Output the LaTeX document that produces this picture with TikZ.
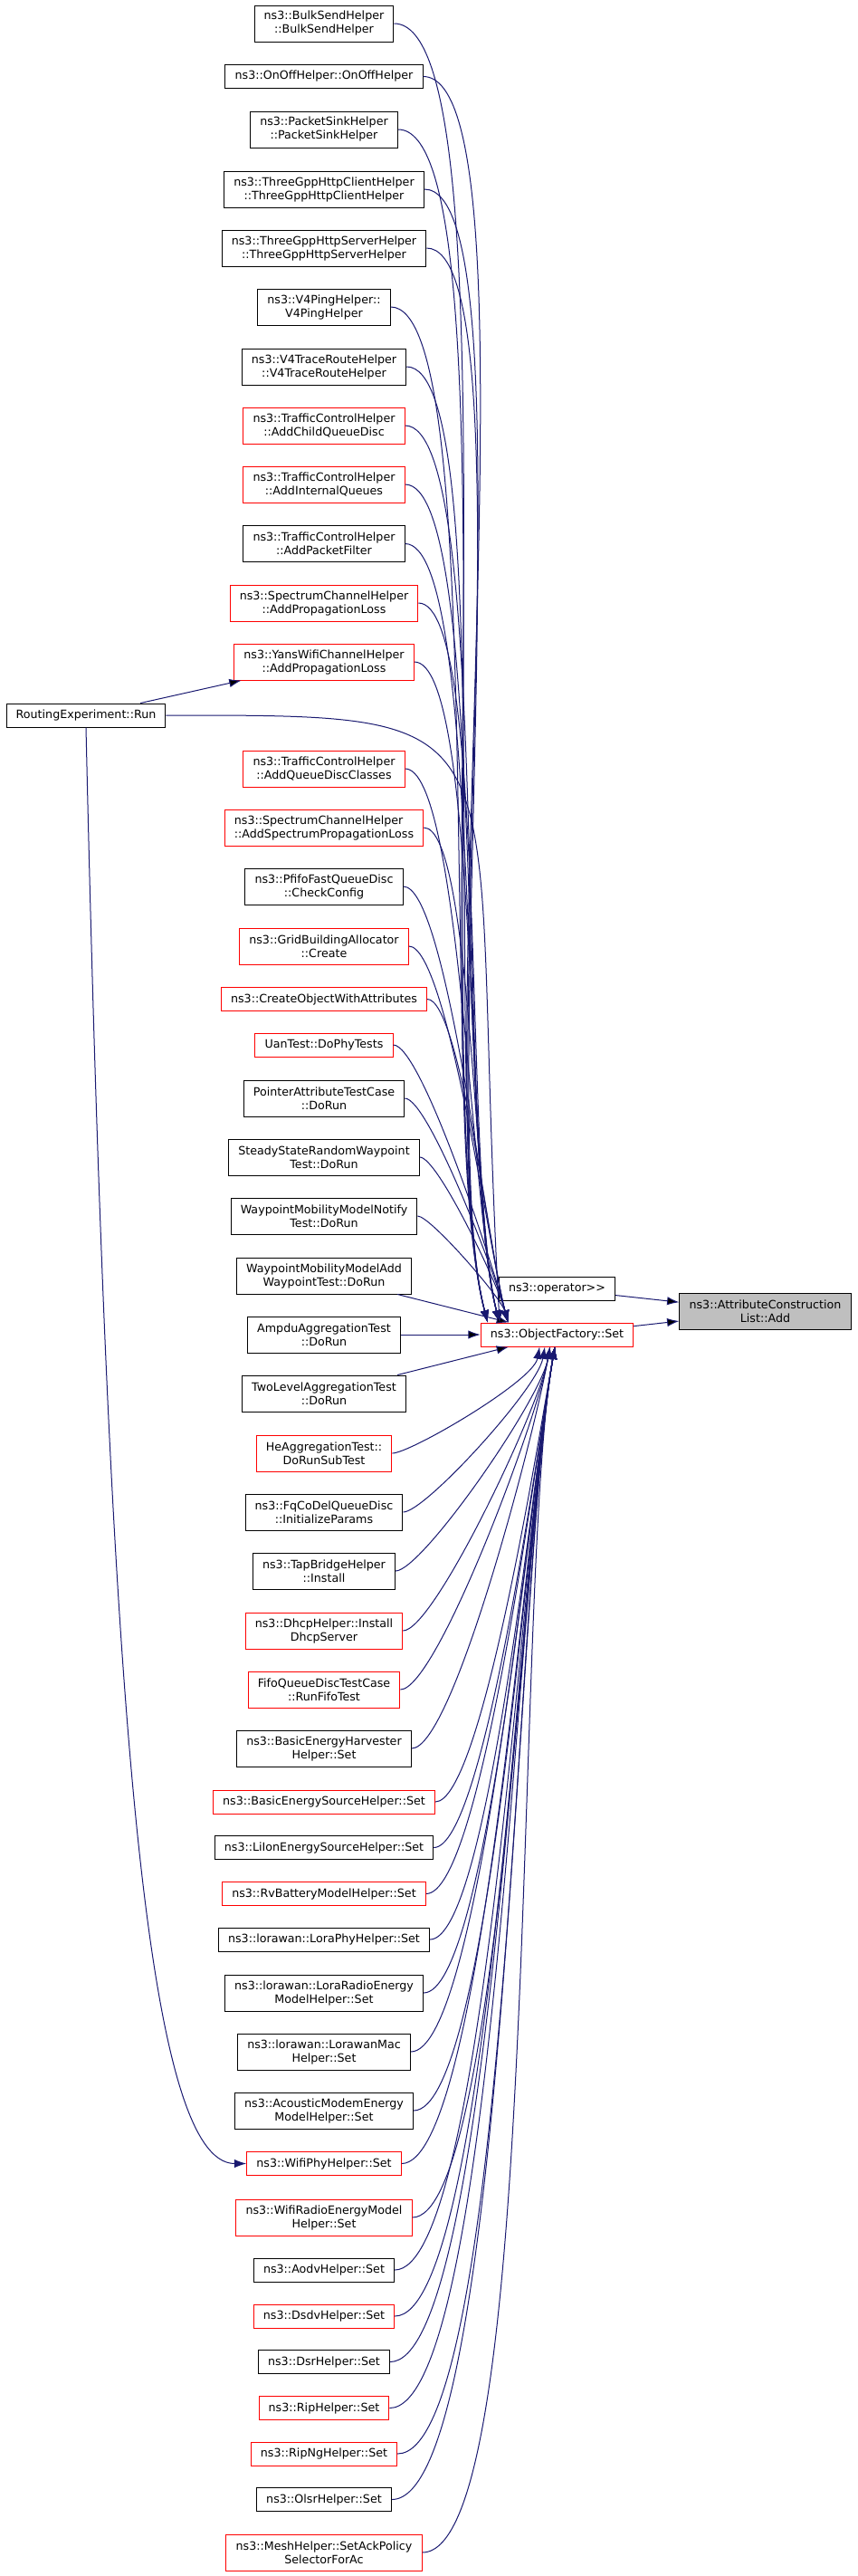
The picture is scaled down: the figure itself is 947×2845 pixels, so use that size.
\documentclass[tikz,border=0pt]{standalone}
\usepackage{fontspec}
\setmainfont{DejaVu Sans}
\usetikzlibrary{arrows.meta}

\definecolor{edgeblue}{HTML}{191970}
\definecolor{selgray}{HTML}{BFBFBF}

\begin{document}
\begin{tikzpicture}[x=0.75pt, y=0.75pt,
  fn/.style={draw=black, line width=0.75pt, fill=white, inner xsep=8pt, inner ysep=2pt,
    minimum height=19.5pt, align=center, font=\fontsize{9.5}{11.25}\selectfont},
  fnred/.style={fn, draw=red},
  tall/.style={minimum height=30pt},
  call/.style={draw=edgeblue, line width=0.75pt, -{Latex[length=10pt,width=7pt]}}]

\useasboundingbox (0,0) rectangle (947,-2845);

\node[fn,tall] (bulk) at (358,-26) {ns3::BulkSendHelper\\::BulkSendHelper};
\node[fn] (onoff) at (358,-84.5) {ns3::OnOffHelper::OnOffHelper};
\node[fn,tall] (sink) at (358,-143) {ns3::PacketSinkHelper\\::PacketSinkHelper};
\node[fn,tall] (httpc) at (358,-209) {ns3::ThreeGppHttpClientHelper\\::ThreeGppHttpClientHelper};
\node[fn,tall] (https) at (358,-274) {ns3::ThreeGppHttpServerHelper\\::ThreeGppHttpServerHelper};
\node[fn,tall] (ping) at (358,-339) {ns3::V4PingHelper::\\V4PingHelper};
\node[fn,tall] (trace) at (358,-405) {ns3::V4TraceRouteHelper\\::V4TraceRouteHelper};
\node[fnred,tall] (child) at (358,-470) {ns3::TrafficControlHelper\\::AddChildQueueDisc};
\node[fnred,tall] (intq) at (358,-535) {ns3::TrafficControlHelper\\::AddInternalQueues};
\node[fn,tall] (filt) at (358,-600.5) {ns3::TrafficControlHelper\\::AddPacketFilter};
\node[fnred,tall] (specloss) at (358,-666) {ns3::SpectrumChannelHelper\\::AddPropagationLoss};
\node[fnred,tall] (yans) at (358,-731) {ns3::YansWifiChannelHelper\\::AddPropagationLoss};
\node[fn] (re) at (95,-790) {RoutingExperiment::Run};
\node[fnred,tall] (classes) at (358,-849) {ns3::TrafficControlHelper\\::AddQueueDiscClasses};
\node[fnred,tall,align=left] (specprop) at (358,-914) {ns3::SpectrumChannelHelper\\::AddSpectrumPropagationLoss};
\node[fn,tall] (pfifo) at (358,-979) {ns3::PfifoFastQueueDisc\\::CheckConfig};
\node[fnred,tall] (grid) at (358,-1045) {ns3::GridBuildingAllocator\\::Create};
\node[fnred] (cowa) at (358,-1103.5) {ns3::CreateObjectWithAttributes};
\node[fnred] (uan) at (358,-1154) {UanTest::DoPhyTests};
\node[fn,tall] (ptr) at (358,-1213) {PointerAttributeTestCase\\::DoRun};
\node[fn,tall] (steady) at (358,-1278) {SteadyStateRandomWaypoint\\Test::DoRun};
\node[fn,tall] (wpnotify) at (358,-1343) {WaypointMobilityModelNotify\\Test::DoRun};
\node[fn,tall] (wpadd) at (358,-1409) {WaypointMobilityModelAdd\\WaypointTest::DoRun};

\node[fn] (op) at (615.5,-1423.5) {ns3::operator>{}>};
\node[fn,tall,fill=selgray] (add) at (845.5,-1448.5) {ns3::AttributeConstruction\\List::Add};
\node[fnred] (ofs) at (615.5,-1474) {ns3::ObjectFactory::Set};

\node[fn,tall] (ampdu) at (358,-1474) {AmpduAggregationTest\\::DoRun};
\node[fn,tall] (twolevel) at (358,-1539) {TwoLevelAggregationTest\\::DoRun};
\node[fnred,tall] (heagg) at (358,-1605) {HeAggregationTest::\\DoRunSubTest};
\node[fn,tall] (fqcodel) at (358,-1670) {ns3::FqCoDelQueueDisc\\::InitializeParams};
\node[fn,tall] (tap) at (358,-1735) {ns3::TapBridgeHelper\\::Install};
\node[fnred,tall] (dhcp) at (358,-1801) {ns3::DhcpHelper::Install\\DhcpServer};
\node[fnred,tall] (fifo) at (358,-1866) {FifoQueueDiscTestCase\\::RunFifoTest};
\node[fn,tall] (harv) at (358,-1931) {ns3::BasicEnergyHarvester\\Helper::Set};
\node[fnred] (basicsrc) at (358,-1990) {ns3::BasicEnergySourceHelper::Set};
\node[fn] (liion) at (358,-2040.5) {ns3::LiIonEnergySourceHelper::Set};
\node[fnred] (rvbat) at (358,-2091.5) {ns3::RvBatteryModelHelper::Set};
\node[fn] (loraphy) at (358,-2142) {ns3::lorawan::LoraPhyHelper::Set};
\node[fn,tall] (loraradio) at (358,-2201) {ns3::lorawan::LoraRadioEnergy\\ModelHelper::Set};
\node[fn,tall] (loramac) at (358,-2266) {ns3::lorawan::LorawanMac\\Helper::Set};
\node[fn,tall] (acoustic) at (358,-2331) {ns3::AcousticModemEnergy\\ModelHelper::Set};
\node[fnred] (wifiphy) at (358,-2389.5) {ns3::WifiPhyHelper::Set};
\node[fnred,tall] (wifiradio) at (358,-2449) {ns3::WifiRadioEnergyModel\\Helper::Set};
\node[fn] (aodv) at (358,-2507) {ns3::AodvHelper::Set};
\node[fnred] (dsdv) at (358,-2558) {ns3::DsdvHelper::Set};
\node[fn] (dsr) at (358,-2608.5) {ns3::DsrHelper::Set};
\node[fnred] (rip) at (358,-2659.5) {ns3::RipHelper::Set};
\node[fnred] (ripng) at (358,-2710) {ns3::RipNgHelper::Set};
\node[fn] (olsr) at (358,-2760.5) {ns3::OlsrHelper::Set};
\node[fnred,tall] (mesh) at (358,-2819) {ns3::MeshHelper::SetAckPolicy\\SelectorForAc};

% callers above the factory
\draw [call] (bulk.east) .. controls +(141,0) and +(-73,272) .. (ofs.170);
\draw [call] (onoff.east) .. controls +(135,0) and +(-70,261) .. (ofs.170);
\draw [call] (sink.east) .. controls +(129,0) and +(-67,250) .. (ofs.170);
\draw [call] (httpc.east) .. controls +(123,0) and +(-64,238) .. (ofs.170);
\draw [call] (https.east) .. controls +(116,0) and +(-60,225) .. (ofs.170);
\draw [call] (ping.east) .. controls +(110,0) and +(-57,213) .. (ofs.170);
\draw [call] (trace.east) .. controls +(104,0) and +(-54,201) .. (ofs.170);
\draw [call] (child.east) .. controls +(97,0) and +(-50,188) .. (ofs.168);
\draw [call] (intq.east) .. controls +(91,0) and +(-47,176) .. (ofs.168);
\draw [call] (filt.east) .. controls +(85,0) and +(-44,163) .. (ofs.168);
\draw [call] (specloss.east) .. controls +(78,0) and +(-41,151) .. (ofs.168);
\draw [call] (yans.east) .. controls +(72,0) and +(-37,139) .. (ofs.168);
\draw [call] (classes.east) .. controls +(61,0) and +(-31,117) .. (ofs.168);
\draw [call] (specprop.east) .. controls +(54,0) and +(-28,105) .. (ofs.168);
\draw [call] (pfifo.east) .. controls +(48,0) and +(-25,93) .. (ofs.166);
\draw [call] (grid.east) .. controls +(42,0) and +(-21,80) .. (ofs.166);
\draw [call] (cowa.east) .. controls +(36,0) and +(-19,70) .. (ofs.166);
\draw [call] (uan.east) .. controls +(31,0) and +(-16,61) .. (ofs.166);
\draw [call] (ptr.east) .. controls +(26,0) and +(-13,50) .. (ofs.166);
\draw [call] (steady.east) .. controls +(20,0) and +(-10,39) .. (ofs.166);
\draw [call] (wpnotify.east) .. controls +(14,0) and +(-8,28) .. (ofs.166);
\path [call] (wpadd) edge (ofs);

% callers below the factory
\path [call] (ampdu) edge (ofs);
\path [call] (twolevel) edge (ofs);
\draw [call] (heagg.east) .. controls +(20,0) and +(-7,-38) .. (ofs.-145);
\draw [call] (fqcodel.east) .. controls +(24,0) and +(-8,-46) .. (ofs.-135);
\draw [call] (tap.east) .. controls +(29,0) and +(-10,-58) .. (ofs.-120);
\draw [call] (dhcp.east) .. controls +(34,0) and +(-12,-68) .. (ofs.-120);
\draw [call] (fifo.east) .. controls +(40,0) and +(-14,-80) .. (ofs.-120);
\draw [call] (harv.east) .. controls +(46,0) and +(-16,-91) .. (ofs.-120);
\draw [call] (basicsrc.east) .. controls +(51,0) and +(-18,-100) .. (ofs.-100);
\draw [call] (liion.east) .. controls +(56,0) and +(-19,-109) .. (ofs.-100);
\draw [call] (rvbat.east) .. controls +(61,0) and +(-21,-119) .. (ofs.-100);
\draw [call] (loraphy.east) .. controls +(65,0) and +(-23,-129) .. (ofs.-100);
\draw [call] (loraradio.east) .. controls +(71,0) and +(-25,-140) .. (ofs.-100);
\draw [call] (loramac.east) .. controls +(77,0) and +(-27,-153) .. (ofs.-100);
\draw [call] (acoustic.east) .. controls +(84,0) and +(-29,-165) .. (ofs.-100);
\draw [call] (wifiphy.east) .. controls +(90,0) and +(-31,-176) .. (ofs.-100);
\draw [call] (wifiradio.east) .. controls +(95,0) and +(-33,-187) .. (ofs.-100);
\draw [call] (aodv.east) .. controls +(101,0) and +(-35,-200) .. (ofs.-100);
\draw [call] (dsdv.east) .. controls +(106,0) and +(-37,-210) .. (ofs.-100);
\draw [call] (dsr.east) .. controls +(111,0) and +(-39,-219) .. (ofs.-100);
\draw [call] (rip.east) .. controls +(116,0) and +(-41,-229) .. (ofs.-100);
\draw [call] (ripng.east) .. controls +(121,0) and +(-42,-239) .. (ofs.-100);
\draw [call] (olsr.east) .. controls +(126,0) and +(-44,-249) .. (ofs.-100);
\draw [call] (mesh.east) .. controls +(132,0) and +(-46,-259) .. (ofs.-100);

% routing experiment
\path [call] (re) edge (yans);
\draw [call] (re.east) .. controls +(415,0) and +(-37,675) .. (ofs.168);
\draw [call] (re.south) .. controls +(25,-1100) and +(-110,0) .. (wifiphy.west);

\path [call] (op) edge (add);
\path [call] (ofs) edge (add);
\end{tikzpicture}
\end{document}
